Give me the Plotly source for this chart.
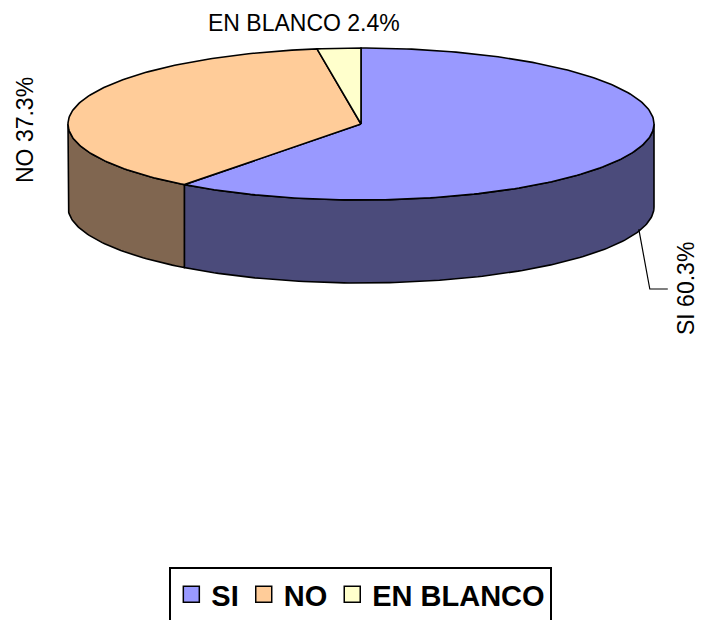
import numpy as np
import plotly.graph_objects as go

# ---- data ----
categories = ["SI", "NO", "EN BLANCO"]
percent = [60.3, 37.3, 2.4]
top_colors = ["#9999FF", "#FFCC99", "#FFFFCC"]
side_colors = ["#4B4B7B", "#806650", "#80806A"]

# ---- geometry (pixel space) ----
W, H = 702, 620
cx, cy, rx, ry, depth = 361.0, 124.0, 293.0, 76.0, 83.0
FONT = "Arial, Liberation Sans, sans-serif"


def pt(theta_deg, dy=0.0):
    t = np.radians(theta_deg)
    return cx + rx * np.sin(t), cy - ry * np.cos(t) + dy


def arc(a, b, dy=0.0):
    th = np.linspace(a, b, max(int(abs(b - a)) + 2, 4))
    xs, ys = pt(th, dy)
    return list(xs), list(ys)


fig = go.Figure()

# angles (clockwise from 12 o'clock)
bounds = np.concatenate([[0], np.cumsum(percent)]) / 100.0 * 360.0

# side faces (front half only: 90..270)
for i in range(len(categories)):
    a, b = bounds[i], bounds[i + 1]
    lo, hi = max(a, 90), min(b, 270)
    if hi <= lo:
        continue
    tx, ty = arc(lo, hi)
    bx, by = arc(hi, lo, depth)
    fig.add_trace(go.Scatter(x=tx + bx + [tx[0]], y=ty + by + [ty[0]], mode="lines",
                             fill="toself", fillcolor=side_colors[i],
                             line=dict(color="black", width=1.6),
                             showlegend=False, hoverinfo="skip"))

# top faces
for i, cat in enumerate(categories):
    a, b = bounds[i], bounds[i + 1]
    ax_, ay_ = arc(a, b)
    fig.add_trace(go.Scatter(x=[cx] + ax_ + [cx], y=[cy] + ay_ + [cy], mode="lines",
                             fill="toself", fillcolor=top_colors[i],
                             line=dict(color="black", width=1.6),
                             showlegend=False, hoverinfo="skip"))

# legend entries
for i, cat in enumerate(categories):
    fig.add_trace(go.Scatter(x=[None], y=[None], mode="markers",
                             marker=dict(symbol="square", size=17, color=top_colors[i],
                                         line=dict(color="black", width=1.5)),
                             name="<b>" + cat + "</b>", showlegend=True, hoverinfo="skip"))

# labels
labels = [f"{c} {p}%" for c, p in zip(categories, percent)]
mid_si = (bounds[0] + bounds[1]) / 2
sx, sy = pt(mid_si, depth)
fig.add_shape(type="path",
              path=f"M {sx:.1f} {sy-2:.1f} L {sx+11:.1f} 289 L {sx+29:.1f} 289",
              line=dict(color="black", width=1.2), xref="x", yref="y")
fig.add_annotation(x=686, y=289, text=labels[0], textangle=-90, showarrow=False,
                   font=dict(family=FONT, size=23, color="black"), xref="x", yref="y")
fig.add_annotation(x=25, y=130, text=labels[1], textangle=-90, showarrow=False,
                   font=dict(family=FONT, size=23, color="black"), xref="x", yref="y")
fig.add_annotation(x=304, y=23, text=labels[2], showarrow=False,
                   font=dict(family=FONT, size=23, color="black"), xref="x", yref="y")

fig.update_layout(
    width=W, height=H,
    margin=dict(l=0, r=0, t=0, b=0, autoexpand=False),
    paper_bgcolor="white", plot_bgcolor="white",
    xaxis=dict(range=[0, W], visible=False, fixedrange=True),
    yaxis=dict(range=[H, 0], visible=False, fixedrange=True),
    showlegend=True,
    legend=dict(orientation="h", x=0.514, xanchor="center", y=1 - 567 / H, yanchor="top",
                bordercolor="black", borderwidth=2, bgcolor="white",
                font=dict(family=FONT, size=29, color="black"),
                itemsizing="trace", itemwidth=30, traceorder="normal"),
)

fig.write_html("out.html", config={"displayModeBar": False},
               post_script="document.body.style.margin='0px';document.body.style.overflow='hidden';")
